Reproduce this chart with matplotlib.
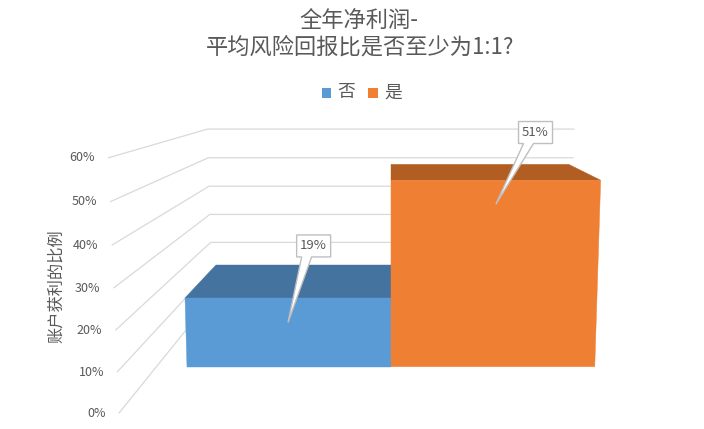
import numpy as np
import matplotlib
matplotlib.use('Agg')
import matplotlib.pyplot as plt
from matplotlib.patches import Polygon, Rectangle

# ---------------- data ----------------
categories = ['否', '是']
values = [19, 51]                       # percent of accounts
value_labels = ['19%', '51%']
y_ticks = [0, 10, 20, 30, 40, 50, 60]
y_tick_labels = ['0%', '10%', '20%', '30%', '40%', '50%', '60%']
title_lines = ['全年净利润-', '平均风险回报比是否至少为1:1?']
y_title = '账户获利的比例'

# ---------------- style ----------------
FONT = ['Noto Sans CJK SC', 'DejaVu Sans']
plt.rcParams['font.family'] = FONT
TEXT_COLOR = '#595959'
GRID_COLOR = '#d9d9d9'
front_colors = ['#5b9bd5', '#ee7f33']
top_colors = ['#44739f', '#b25e22']

# perspective camera (pixel space of the 704x429 canvas)
F = 1068.0
TH = np.arctan(0.163)
CX, CY = 391.0, 250.0
CAM_H = 78.3
S, C = np.sin(TH), np.cos(TH)

# scene geometry (world units; height unit = 1 percent)
WALL_X = (-64.0, 64.0)
WALL_Y = (241.7, 374.5)
BAR_Y = (282.5, 334.0)
BAR_W = 55.6


def project(x, y, z):
    x = np.asarray(x, float)
    y = np.asarray(y, float)
    z = np.asarray(z, float)
    dz = z - CAM_H
    yc = y * S + dz * C
    zc = y * C - dz * S
    return CX + F * x / zc, CY - F * yc / zc


fig = plt.figure(figsize=(7.04, 4.29), dpi=100)
ax = fig.add_axes([0, 0, 1, 1])
ax.set_xlim(0, 704)
ax.set_ylim(429, 0)
ax.axis('off')

# walls: side wall and back wall gridlines
for t, lab in zip(y_ticks, y_tick_labels):
    u, v = project([WALL_X[0], WALL_X[0], WALL_X[1]],
                   [WALL_Y[0], WALL_Y[1], WALL_Y[1]], [t, t, t])
    ax.plot(u, v, color=GRID_COLOR, lw=0.9, zorder=1, solid_capstyle='butt')
    ax.text(u[0] - 13, v[0], lab, ha='right', va='center',
            fontsize=9, color=TEXT_COLOR)

# bars
n = len(values)
for i, val in enumerate(values):
    x0 = (i - n / 2) * BAR_W
    x1 = x0 + BAR_W
    # top face
    u, v = project([x0, x1, x1, x0], [BAR_Y[0], BAR_Y[0], BAR_Y[1], BAR_Y[1]],
                   [val, val, val, val])
    ax.add_patch(Polygon(np.column_stack([u, v]), closed=True,
                         facecolor=top_colors[i], edgecolor=top_colors[i],
                         lw=0.3, zorder=3))
    # front face
    u, v = project([x0, x1, x1, x0], [BAR_Y[0]] * 4, [0, 0, val, val])
    ax.add_patch(Polygon(np.column_stack([u, v]), closed=True,
                         facecolor=front_colors[i], edgecolor=front_colors[i],
                         lw=0.3, zorder=4))

# data label callouts
LABEL_OFFSETS = [(25.6, -52.5), (39.7, -47.7)]
TIP_DROP = 24.0
BOX_W, BOX_H = 34.0, 22.0
for i, (val, lab) in enumerate(zip(values, value_labels)):
    x0 = (i - n / 2) * BAR_W
    cu, cv = project(x0 + BAR_W / 2, BAR_Y[0], val)
    cu, cv = float(cu), float(cv)
    tip = (cu, cv + TIP_DROP)
    bx, by = cu + LABEL_OFFSETS[i][0], cv + LABEL_OFFSETS[i][1]
    L, R = bx - BOX_W / 2, bx + BOX_W / 2
    T, B = by - BOX_H / 2, by + BOX_H / 2
    pts = [(L, T), (R, T), (R, B), (bx - 2, B), tip, (bx - 12, B), (L, B)]
    ax.add_patch(Polygon(pts, closed=True, facecolor='white',
                         edgecolor='#bfbfbf', lw=1.0, zorder=6,
                         joinstyle='miter'))
    ax.text(bx, by, lab, ha='center', va='center', fontsize=9.5,
            color=TEXT_COLOR, zorder=7)

# axis title
ax.text(56.7, 286, y_title, rotation=90, ha='center', va='center',
        fontsize=11.7, color=TEXT_COLOR)

# chart title
ax.text(359, 20, title_lines[0], ha='center', va='center', fontsize=16,
        color=TEXT_COLOR)
ax.text(360, 47.5, title_lines[1], ha='center', va='center', fontsize=16,
        color=TEXT_COLOR)

# legend
for i, cat in enumerate(categories):
    lx = 321.7 + i * 46.7
    ax.add_patch(Rectangle((lx, 88.3), 9.3, 9.3, facecolor=front_colors[i],
                           edgecolor='none', zorder=5))
    ax.text(lx + 15.5, 92.5, cat, ha='left', va='center', fontsize=12.8,
            color=TEXT_COLOR)

fig.savefig('out.png', dpi=100)
